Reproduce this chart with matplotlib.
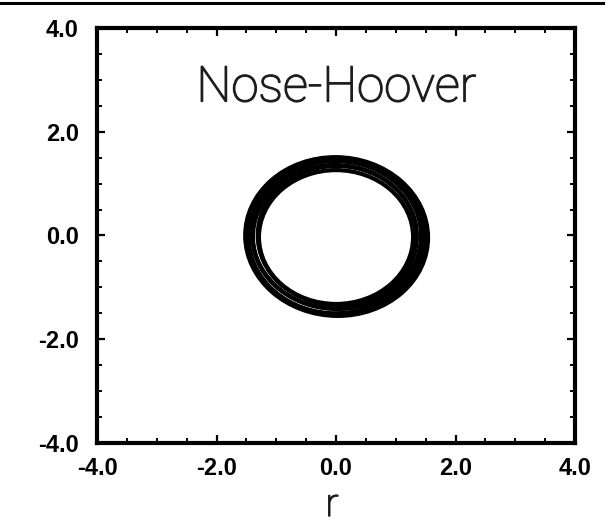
import matplotlib
matplotlib.use("Agg")
import matplotlib.pyplot as plt
import matplotlib.patheffects as pe
from matplotlib.patches import Ellipse
from matplotlib.lines import Line2D
from matplotlib.ticker import MultipleLocator

plt.rcParams['axes.unicode_minus'] = False

# Data: trajectory orbits of the Nose-Hoover oscillator (phase space)
orbit_cx = [0.00, 0.02, -0.02, 0.01, -0.01, 0.00, 0.01]
orbit_cy = [-0.03, 0.00, -0.02, 0.01, -0.03, -0.01, -0.02]
orbit_rx = [1.29, 1.33, 1.37, 1.41, 1.45, 1.49, 1.52]
orbit_ry = [1.29, 1.34, 1.38, 1.43, 1.47, 1.51, 1.54]
orbit_angle = [0, 10, -15, 20, -5, 30, 45]

tick_values = [-4.0, -2.0, 0.0, 2.0, 4.0]
tick_labels = ['-4.0', '-2.0', '0.0', '2.0', '4.0']
title_text = 'Nose-Hoover'
xlabel_text = 'r'

fig = plt.figure(figsize=(6.11, 5.25), dpi=100)
ax = fig.add_axes([0.1588, 0.1562, 0.7823, 0.7905])

for cx, cy, rx, ry, ang in zip(orbit_cx, orbit_cy, orbit_rx, orbit_ry, orbit_angle):
    ax.add_patch(Ellipse((cx, cy), 2 * rx, 2 * ry, angle=ang, fill=False,
                         edgecolor='black', linewidth=3.0))

ax.set_xlim(-4, 4)
ax.set_ylim(-4, 4)
ax.set_xticks(tick_values)
ax.set_yticks(tick_values)
ax.set_xticklabels(tick_labels)
ax.set_yticklabels(tick_labels)
ax.xaxis.set_minor_locator(MultipleLocator(0.5))
ax.yaxis.set_minor_locator(MultipleLocator(0.5))

for s in ax.spines.values():
    s.set_linewidth(3.0)
    s.set_color('black')

ax.tick_params(which='both', direction='in', top=True, right=True, color='black')
ax.tick_params(which='major', length=6, width=1.6)
ax.tick_params(which='minor', length=3.5, width=1.4)
ax.tick_params(axis='x', which='major', pad=10)
ax.tick_params(axis='y', which='major', pad=13)
for lab in ax.get_xticklabels() + ax.get_yticklabels():
    lab.set_fontfamily('Liberation Sans')
    lab.set_fontweight('bold')
    lab.set_fontsize(17)

thicken = [pe.withStroke(linewidth=1.0, foreground='#1e1e1e')]

ax.text(0.0, 2.84, title_text, ha='center', va='center', fontsize=35.5,
        family=['Roboto', 'DejaVu Sans'], fontweight='light', color='#1e1e1e',
        path_effects=thicken)

fig.text(332 / 611, 1 - 516 / 525, xlabel_text, ha='center', va='baseline',
         fontsize=28, family=['Roboto', 'DejaVu Sans'], fontweight='light',
         color='#1a1a1a', path_effects=thicken)

# top page rule
fig.add_artist(Line2D([0, 603 / 611], [1 - 3 / 525, 1 - 3 / 525],
                      transform=fig.transFigure, color='black', linewidth=2.2))

fig.savefig('out.png', dpi=100)
